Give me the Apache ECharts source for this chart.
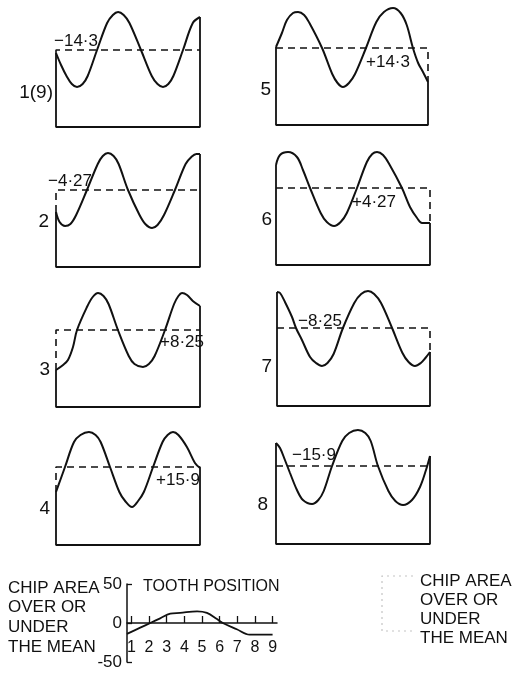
<!DOCTYPE html>
<html><head><meta charset="utf-8">
<script src="https://cdn.jsdelivr.net/npm/echarts@6/dist/echarts.min.js"></script>
<style>html,body{margin:0;padding:0;background:#fff}#c{width:523px;height:674px}</style>
</head><body><div id="c"></div>
<script>
// ---- data ----
const panelNames = ['1(9)', '2', '3', '4', '5', '6', '7', '8'];
const deviationLabels = ['−14·3', '−4·27', '+8·25', '+15·9', '+14·3', '+4·27', '−8·25', '−15·9'];
const meanLevels = [77, 77, 77, 78, 77, 77, 78, 78];

const curve1 = [[0,74],[3.5,62],[7.3,51],[11,43],[14.6,40],[18.5,43],[22,51],[28.5,77],[35.5,104],[39.5,112],[43.1,115],[47,112],[51,104],[59,77],[66.5,51],[70.5,43],[74.3,40],[78,43],[81.5,51],[88.2,77],[95,104],[100,110]];
const curve2 = [[0,55],[2.5,45],[6.3,41],[10,43],[14,52],[21.5,77],[29,103],[32.5,111],[36.1,114],[40,111],[43.5,103],[50,77],[58,52],[62,43],[66.7,39],[70.5,42],[75,52],[82.6,77],[90,103],[94,110],[97.5,113],[100,113]];
const curve3 = [[0,37],[4.9,42],[8.3,47],[11.8,60],[14.6,77],[21.5,100],[25.5,110],[29.2,114],[33,111],[36.5,103],[43,77],[50.5,51],[54.5,43],[60.4,40],[64.5,43],[68.5,51],[75.7,77],[82,103],[85,111],[87.5,114],[91,112],[95,106],[100,101]];
const curve4 = [[0,53],[3,65],[6.25,78],[12.5,103],[17,110],[22.9,113],[27.5,110],[31,103],[37.5,78],[44,53],[48,44],[52.8,38],[57,44],[61,53],[67.4,78],[74,103],[77.5,110],[81.25,113],[85,110],[90.9,98],[96.5,82],[100,77]];
const curve5 = [[0,78],[3.9,92],[7.2,105],[11.2,112],[14.5,113],[18.5,110],[22,102],[30.3,77],[37,51],[40.5,42],[44,38],[48,42],[52,51],[59.2,77],[66,103],[71,113],[77,117],[82,112],[86,100],[90.1,77],[93.5,62],[96.7,53],[100,43]];
const curve6 = [[0,100],[2.6,110],[7.8,113],[13.6,108],[17.5,95],[22.1,77],[29,52],[33,43],[37.7,39],[42,43],[46,52],[52.6,77],[59,103],[62.5,111],[65.6,113],[69.5,110],[73.5,101],[81.8,77],[87,58],[91.6,47],[94.8,42],[100,42]];
const curve7 = [[0,114],[2,113],[5.2,104],[9.8,89],[12.4,78],[16.3,66],[21.6,49],[25.5,43],[29.4,40],[33,43],[37,52],[43.1,78],[50.5,103],[55,112],[59.5,115],[63.5,112],[68,103],[75.2,78],[82,53],[86,44],[90.2,40],[94,43],[97,48],[100,54]];
const curve8 = [[0,101],[2.6,96],[5.8,84],[9.1,71],[13.6,54],[17.5,44],[23.4,40],[27.5,44],[31,53],[36.4,78],[43,103],[47.5,111],[53.2,114],[58,111],[61.5,103],[66.2,78],[73,53],[77.5,43],[82.5,39],[88.3,44],[93.5,57],[97.4,74],[100,88]];
const curves = [curve1, curve2, curve3, curve4, curve5, curve6, curve7, curve8];

const toothPositions = [1, 2, 3, 4, 5, 6, 7, 8, 9];
const deviationCurve = [[0.75,-14],[1.5,-6],[2.07,0],[2.63,6],[3.2,12],[3.76,13],[4.72,15],[5.28,13],[5.85,5],[6.18,0],[6.97,-8],[7.7,-15],[9,-15]];
const deviationTicks = [-50, 0, 50];

const insetCaption = ['CHIP AREA', 'OVER OR', 'UNDER', 'THE MEAN'];
const insetAxisTitle = 'TOOTH POSITION';

// ---- layout ----
const boxes = [
  {left:56, width:144, bottom:127}, {left:56, width:144, bottom:267},
  {left:56, width:144, bottom:407}, {left:56, width:144, bottom:545},
  {left:276, width:152, bottom:125}, {left:276, width:154, bottom:265},
  {left:277, width:153, bottom:406}, {left:276, width:154, bottom:544}
];
const namePos = [[53,93],[49,222],[50,370],[50,509],[271,90],[272,220],[272,367],[268,505]];
const devPos = [[54,41],[48,181],[160,342],[156,480],[366,62],[352,202],[298,321],[292,455]];
const YMAX = 120;
const INK = '#111';
const FONT = 'Liberation Sans';

const grid = [], xAxis = [], yAxis = [], series = [], graphic = [];
boxes.forEach((b, i) => {
  grid.push({left:b.left, width:b.width, top:b.bottom - YMAX, height:YMAX});
  xAxis.push({type:'value', gridIndex:i, min:0, max:100, show:false});
  yAxis.push({type:'value', gridIndex:i, min:0, max:YMAX, show:false});
  const c = curves[i], m = meanLevels[i];
  const first = c[0], last = c[c.length - 1];
  series.push({type:'line', xAxisIndex:i, yAxisIndex:i, data:c, smooth:0.35, symbol:'none', clip:false,
    lineStyle:{color:INK, width:2}});
  series.push({type:'line', xAxisIndex:i, yAxisIndex:i, symbol:'none', clip:false,
    data:[[0, first[1]], [0, 0], [100, 0], [100, last[1]]],
    lineStyle:{color:INK, width:1.8}});
  series.push({type:'line', xAxisIndex:i, yAxisIndex:i, symbol:'none', clip:false,
    data:[[0, Math.min(first[1], m)], [0, m], [100, m], [100, Math.min(last[1], m)]],
    lineStyle:{color:INK, width:1.6, type:[7, 5]}});
  graphic.push({type:'text', style:{text:panelNames[i], x:namePos[i][0], y:namePos[i][1], fill:INK,
    font:'19px "' + FONT + '"', textAlign:'right', textVerticalAlign:'middle'}});
  graphic.push({type:'text', style:{text:deviationLabels[i], x:devPos[i][0], y:devPos[i][1], fill:INK,
    font:'17px "' + FONT + '"', textAlign:'left', textVerticalAlign:'middle'}});
});

// inset chart
const gi = boxes.length;
grid.push({left:127, width:150, top:584, height:78});
xAxis.push({type:'value', gridIndex:gi, min:0.75, max:9.25,
  axisLine:{show:true, onZero:true, lineStyle:{color:INK, width:1.5}},
  axisTick:{show:true, inside:true, length:7, customValues:toothPositions, lineStyle:{color:INK, width:1.3}},
  axisLabel:{show:true, inside:true, margin:6, customValues:toothPositions, color:INK, fontSize:16, fontFamily:FONT},
  splitLine:{show:false}});
yAxis.push({type:'value', gridIndex:gi, min:-50, max:50, interval:50,
  axisLine:{show:true, lineStyle:{color:INK, width:1.5}},
  axisTick:{show:true, inside:true, length:5, lineStyle:{color:INK, width:1.3}},
  axisLabel:{show:true, margin:5, color:INK, fontSize:17, fontFamily:FONT},
  splitLine:{show:false}});
series.push({type:'line', xAxisIndex:gi, yAxisIndex:gi, data:deviationCurve, smooth:0.35, symbol:'none', clip:false,
  lineStyle:{color:INK, width:1.8}});

graphic.push({type:'text', style:{text:insetCaption.join('\n'), x:8, y:578, fill:INK,
  font:'17px "' + FONT + '"', lineHeight:19.7, textAlign:'left', textVerticalAlign:'top'}});
graphic.push({type:'text', style:{text:insetAxisTitle, x:143, y:587, fill:INK,
  font:'16px "' + FONT + '"', textAlign:'left', textVerticalAlign:'middle'}});
graphic.push({type:'text', style:{text:insetCaption.join('\n'), x:420, y:571.5, fill:INK,
  font:'17px "' + FONT + '"', lineHeight:19, textAlign:'left', textVerticalAlign:'top'}});
graphic.push({type:'polyline', shape:{points:[[413,576],[382,576],[382,631],[413,631]]},
  style:{stroke:'#c4c4c4', lineWidth:1.2, lineDash:[2,4], fill:null}});

const chart = echarts.init(document.getElementById('c'), null, {renderer:'canvas'});
chart.setOption({animation:false, backgroundColor:'#fff', grid, xAxis, yAxis, series, graphic});
</script></body></html>
